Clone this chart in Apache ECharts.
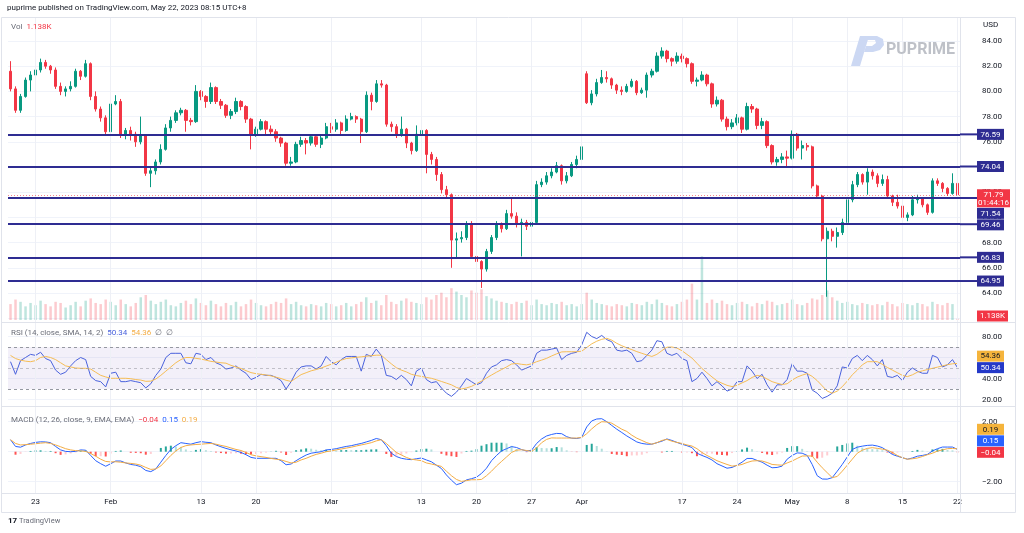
<!DOCTYPE html>
<html><head><meta charset="utf-8">
<script src="https://cdn.jsdelivr.net/npm/echarts/dist/echarts.min.js"></script>
<style>html,body{margin:0;padding:0;background:#fff}#c{width:1024px;height:533px}</style>
</head><body><div id="c"></div>
<script>
// ---- data (4H WTI chart, resampled to ~2 bars per trading day) ----
const tickLabels = ['23','Feb','13','20','Mar','13','20','27','Apr','17','24','May','8','15','22'];
const tickIndex  = [5,20,38,49,64,82,93,104,114,134,145,156,167,178,189];
// [open, close, low, high]
const candles = [
[81.6,80.2,80.0,82.4],[80.2,78.5,78.3,80.4],[78.5,79.6,78.3,79.8],[79.6,80.9,79.5,81.1],[80.9,81.3,80.0,81.6],[81.3,81.7,81.1,81.9],[81.7,82.3,81.5,82.6],[82.3,82.0,81.8,82.5],[82.0,81.7,81.4,82.1],[81.7,80.4,80.2,81.9],
[80.4,80.0,79.7,80.7],[80.0,80.2,79.6,80.4],[80.2,80.4,80.0,80.8],[80.4,81.6,80.3,81.8],[81.6,81.2,80.9,81.7],[81.2,82.2,81.1,82.5],[82.2,79.6,79.3,82.3],[79.6,78.6,78.4,80.0],[78.6,77.9,77.6,78.8],[77.9,76.8,76.6,78.1],
[76.8,79.0,76.6,79.2],[79.0,79.2,78.9,79.7],[79.2,76.5,76.3,79.4],[76.5,76.9,76.2,77.1],[76.9,76.6,76.1,77.2],[76.6,76.0,75.6,76.8],[76.0,76.5,75.8,78.0],[76.5,73.5,73.3,76.6],[73.5,73.7,72.4,74.0],[73.7,74.4,73.4,74.6],
[74.4,75.4,74.2,75.8],[75.4,77.1,75.3,77.4],[77.1,77.7,76.8,78.0],[77.7,78.3,77.5,78.5],[78.3,78.5,78.1,78.7],[78.5,77.7,76.8,78.6],[77.7,77.6,77.3,77.9],[77.6,80.0,77.5,80.5],[80.0,79.6,79.3,80.1],[79.6,79.2,78.7,79.7],
[79.2,80.3,79.0,80.7],[80.3,79.2,79.0,80.4],[79.2,78.9,78.6,79.4],[78.9,78.1,77.9,79.0],[78.1,78.4,77.8,78.6],[78.4,79.2,78.2,79.5],[79.2,78.8,78.5,79.3],[78.8,77.8,77.5,78.9],[77.8,76.6,75.4,77.9],[76.6,77.0,76.4,77.2],
[77.0,77.6,76.9,77.8],[77.6,77.0,76.5,77.7],[77.0,76.8,76.5,77.3],[76.8,76.3,76.0,77.0],[76.3,75.9,75.6,76.4],[75.9,74.3,74.1,76.0],[74.3,74.4,74.1,74.8],[74.4,75.8,74.3,76.0],[75.8,76.1,75.6,76.4],[76.1,75.9,75.0,76.3],
[75.9,76.4,75.7,76.6],[76.4,75.8,75.6,76.5],[75.8,76.3,75.5,76.5],[76.3,77.2,76.2,77.5],[77.2,77.0,76.7,77.5],[77.0,77.5,76.8,77.8],[77.5,76.9,76.5,77.6],[76.9,77.8,76.8,78.1],[77.8,78.0,77.7,78.3],[78.0,77.8,77.5,78.1],
[77.8,76.8,75.9,77.9],[76.8,79.7,76.7,80.0],[79.7,79.2,78.5,79.9],[79.2,80.6,79.1,80.9],[80.6,80.5,80.3,80.9],[80.5,77.4,77.2,80.6],[77.4,77.2,76.8,77.6],[77.2,76.6,76.3,77.4],[76.6,77.0,76.4,78.0],[77.0,75.9,75.5,77.1],
[75.9,75.3,75.0,76.0],[75.3,76.6,75.2,77.3],[76.6,76.9,76.4,77.2],[76.9,75.0,73.5,77.0],[75.0,74.6,74.2,75.2],[74.6,73.4,72.9,74.8],[73.4,72.2,71.9,73.6],[72.2,71.8,71.6,72.5],[71.8,68.2,66.0,71.9],[68.2,68.3,66.7,68.8],
[68.3,68.4,68.0,68.9],[68.4,69.4,68.2,69.7],[69.4,66.9,66.7,69.7],[66.9,66.5,66.2,67.2],[66.5,65.9,64.4,66.6],[65.9,67.3,65.7,67.5],[67.3,68.4,67.1,68.6],[68.4,69.4,68.2,69.7],[69.4,69.1,68.8,69.6],[69.1,70.3,69.0,70.6],
[70.3,70.1,69.9,71.5],[70.1,69.5,69.2,70.4],[69.5,69.6,66.9,69.9],[69.6,69.3,69.0,69.8],[69.3,69.6,69.1,69.9],[69.6,72.6,69.5,72.9],[72.6,72.8,72.4,73.1],[72.8,73.3,72.6,73.6],[73.3,73.6,73.1,73.9],[73.6,74.1,73.5,74.4],
[74.1,72.9,72.6,74.2],[72.9,73.3,72.7,73.6],[73.3,74.2,73.2,74.4],[74.2,74.6,73.9,74.9],[74.6,75.6,74.5,75.8],[81.4,79.1,79.0,81.6],[79.1,79.8,78.9,80.1],[79.8,80.7,79.6,81.0],[80.7,81.1,80.6,81.7],[81.1,81.0,80.7,81.6],
[81.0,80.5,80.2,81.1],[80.5,80.1,79.8,80.6],[80.1,80.0,79.7,80.4],[80.0,80.4,79.9,80.6],[80.4,80.8,80.3,81.0],[80.8,79.9,79.7,80.9],[79.9,80.1,79.8,80.3],[80.1,81.3,79.5,81.5],[81.3,81.6,81.1,81.8],[81.6,82.8,81.5,83.1],
[82.8,83.2,82.6,83.5],[83.2,82.6,82.3,83.3],[82.6,82.4,82.0,82.7],[82.4,82.8,82.2,83.1],[82.8,82.6,82.3,83.0],[82.6,82.2,81.9,82.7],[82.2,80.8,80.6,82.3],[80.8,80.9,80.4,81.1],[80.9,81.3,80.8,81.6],[81.3,80.6,80.4,81.4],
[80.6,79.0,78.7,80.7],[79.0,79.3,78.8,79.6],[79.3,77.8,77.6,79.4],[77.8,77.2,76.9,78.0],[77.2,77.5,77.0,77.8],[77.5,77.9,77.3,78.2],[77.9,77.0,76.7,78.0],[77.0,78.8,76.9,79.1],[78.8,78.6,78.3,79.0],[78.6,77.3,77.0,78.7],
[77.3,77.6,77.0,77.9],[77.6,75.7,75.5,77.7],[75.7,74.4,74.2,75.8],[74.4,74.6,74.1,74.8],[74.6,74.8,74.3,75.1],[74.8,74.7,74.0,75.3],[74.7,76.6,74.6,76.9],[76.6,75.5,75.3,76.7],[75.5,75.7,74.6,76.1],[75.7,75.6,75.3,75.9],
[75.6,72.5,72.3,75.7],[72.5,71.7,71.5,72.6],[71.7,68.3,68.1,71.8],[68.3,68.9,63.7,69.2],[68.9,68.5,68.1,69.1],[68.5,68.8,67.6,69.2],[68.8,69.6,68.6,69.9],[69.6,71.4,69.5,71.6],[71.4,72.6,71.2,72.9],[72.6,73.4,72.4,73.6],
[73.4,72.8,72.6,73.5],[72.8,73.6,71.8,73.9],[73.6,73.3,73.0,73.8],[73.3,72.7,72.4,73.5],[72.7,73.0,72.5,73.4],[73.0,71.7,71.5,73.3],[71.7,71.2,70.9,71.8],[71.2,70.9,70.7,71.8],[70.9,70.0,69.8,71.0],[70.0,70.2,69.7,70.4],
[70.2,71.4,70.1,71.7],[71.4,71.5,71.1,71.8],[71.5,71.0,70.8,71.6],[71.0,70.4,70.2,71.1],[70.4,72.9,70.3,73.1],[72.9,72.7,72.5,73.1],[72.7,72.3,72.0,72.8],[72.3,71.9,71.7,72.4],[71.9,72.7,71.8,73.5],[72.7,71.79,71.3,72.8]
];
const volumes = [
14,18,16,12,15,13,17,14,12,16, 15,11,13,16,12,17,19,15,14,18, 16,13,18,14,12,15,20,22,17,14, 16,18,13,12,15,17,14,19,15,13,
17,14,12,15,13,16,12,14,18,15, 13,12,14,16,15,19,14,16,13,12, 14,13,12,15,14,12,13,15,12,14, 16,20,15,17,13,22,16,14,17,19,
16,15,14,20,18,22,24,20,28,25, 22,20,26,24,27,21,19,17,16,15, 14,16,15,17,13,18,14,13,15,14, 16,13,14,12,14,24,18,15,14,13,
12,14,13,12,15,14,13,16,14,18, 15,13,12,14,16,18,32,18,56,15, 18,15,17,14,13,15,16,14,12,15, 14,17,16,13,14,15,18,14,13,15,
19,18,22,26,20,17,15,16,14,13, 15,14,13,14,13,16,14,12,15,14, 13,15,14,12,16,14,13,15,14,1.138
];
const rsi = [
56,44,57,60,63,62,65,59,57,48, 44,46,52,57,60,58,42,38,37,32, 45,46,37,37,38,37,36,31,35,43, 49,60,64,64,64,55,54,64,63,58,
60,55,53,49,50,52,48,45,39,41, 44,43,43,41,38,30,37,46,51,52, 52,49,52,61,56,53,58,61,61,61, 47,63,61,68,62,43,42,39,43,39,
33,47,50,39,36,37,31,26,23,27, 33,40,37,34,36,45,51,53,57,58, 57,53,48,50,52,64,67,67,68,69, 58,62,64,65,72,84,80,78,81,77,
75,67,66,67,64,56,57,62,67,76, 75,64,62,64,59,57,37,40,46,40, 33,37,33,28,30,37,37,52,47,40, 44,34,27,34,34,39,54,47,47,45,
29,26,21,23,26,33,51,50,59,62, 57,62,58,52,58,42,41,43,38,46, 50,47,45,45,62,60,51,53,58,50.34
];
const rsiMa = [
62,59,57.5,56.5,56,57,60,61,60,58, 55,52,51,50,49.7,49.7,49,46,43,41.5, 40.2,40.2,40.2,40.2,39.8,39,38.5,37.3,37.5,39.5,
43,47,51,55,58,60,60,59.2,58.5,57.5, 56.3,55.7,55,54.6,52.5,51,49.5,47.5,45.6,44.6, 44,43.4,42.5,41.2,40,38.3,37.2,40.5,43.7,45.5,
47.3,48.5,50,51.8,53.6,55.5,57.5,59,59.6,60.2, 60.6,61.2,61.7,62.2,62.2,58,54,50.3,48,46.3, 44,42.8,42,41,40.2,38.8,37.2,35.6,34,31.5,
30,31,32.5,35,37.5,40.5,43.3,46,48.5,51, 53.8,54.3,53.5,53,54,56,57.5,59.2,61.5,63.5, 65.3,65.5,65.5,65.5,66,69.5,73,75.5,77.3,78.3,
76.5,73.5,71.2,69.2,67.5,65.6,64,62.4,61,63, 66.5,69.8,70,69,66.5,63,59.5,54.5,49.5,45.5, 41.5,37.8,35.5,33.5,32.3,33.5,35.8,38,41,43,
42,39.5,37,35.5,34.3,35,38.5,41.3,43.2,44.7, 42,38,33,28,26,28,32.2,37.5,43.5,48, 53,56,56,56,53.5,50.5,48,45.5,43,41.8,
43.5,46,47.3,48.5,49.7,50.8,52,53.2,54,54.36
];
const macd = [
0.8,0.35,0.3,0.45,0.55,0.62,0.66,0.65,0.6,0.35, 0.12,0.02,0,0.02,0.12,0.1,-0.25,-0.6,-0.8,-0.97, -0.8,-0.62,-0.62,-0.75,-0.85,-0.9,-1.0,-1.25,-1.33,-1.15,
-0.7,-0.25,0.15,0.4,0.6,0.55,0.5,0.6,0.67,0.63, 0.6,0.45,0.33,0.22,0.13,0.05,-0.05,-0.2,-0.38,-0.44, -0.44,-0.44,-0.44,-0.44,-0.6,-0.87,-0.82,-0.6,-0.4,-0.22,
-0.1,-0.05,0,0.12,0.15,0.2,0.28,0.35,0.4,0.48, 0.55,0.65,0.75,0.88,0.8,0.4,-0.1,-0.32,-0.44,-0.5, -0.53,-0.47,-0.42,-0.55,-0.67,-0.9,-1.12,-1.55,-1.9,-2.2,
-2.1,-1.88,-1.8,-1.7,-1.45,-1.1,-0.6,-0.25,0.05,0.2, 0.34,0.28,0.14,0.05,0.1,0.55,0.85,1.05,1.15,1.22, 1.2,1.0,0.9,0.88,0.95,1.65,2.05,2.18,2.2,2.0,
1.75,1.5,1.28,1.05,0.85,0.65,0.55,0.5,0.5,0.6, 0.7,0.85,0.75,0.62,0.5,0.4,0.28,-0.1,-0.25,-0.38, -0.55,-0.8,-0.95,-1.1,-1.05,-0.9,-0.7,-0.45,-0.45,-0.58,
-0.7,-0.9,-1.07,-1.05,-0.96,-0.5,-0.25,-0.08,-0.1,-0.25, -0.85,-1.6,-1.82,-1.83,-1.73,-1.3,-0.85,-0.35,0.15,0.3, 0.37,0.42,0.44,0.38,0.27,0.05,-0.18,-0.3,-0.4,-0.5,
-0.42,-0.3,-0.25,-0.18,0.05,0.2,0.31,0.31,0.31,0.15
];
const signal = [
0.8,0.55,0.45,0.47,0.5,0.53,0.57,0.6,0.55,0.45, 0.33,0.2,0.12,0.07,0.05,0.02,-0.12,-0.3,-0.5,-0.65, -0.68,-0.67,-0.7,-0.75,-0.78,-0.82,-0.9,-1.05,-1.18,-1.15,
-0.95,-0.6,-0.25,0.05,0.28,0.4,0.45,0.48,0.5,0.53, 0.55,0.5,0.42,0.35,0.25,0.15,0.08,-0.05,-0.2,-0.28, -0.33,-0.38,-0.45,-0.5,-0.55,-0.65,-0.75,-0.7,-0.55,-0.44,
-0.3,-0.18,-0.1,0,0.05,0.12,0.18,0.24,0.3,0.38, 0.45,0.52,0.6,0.72,0.8,0.55,0.25,-0.05,-0.22,-0.38, -0.5,-0.55,-0.6,-0.75,-0.82,-0.9,-0.98,-1.3,-1.6,-1.85,
-1.98,-1.93,-1.87,-1.87,-1.85,-1.6,-1.3,-0.95,-0.65,-0.35, -0.05,0.1,0.13,0.08,0.02,0.25,0.6,0.82,0.92,0.91, 0.91,0.91,0.91,0.91,0.95,1.2,1.52,1.8,2.0,1.98,
1.9,1.7,1.5,1.35,1.1,0.9,0.75,0.6,0.5,0.6, 0.75,0.82,0.7,0.62,0.55,0.45,0.38,0.2,-0.05,-0.25, -0.42,-0.6,-0.73,-0.85,-0.96,-0.92,-0.85,-0.72,-0.62,-0.6,
-0.62,-0.72,-0.85,-0.88,-0.9,-0.75,-0.62,-0.45,-0.29,-0.28, -0.29,-0.7,-1.07,-1.4,-1.73,-1.65,-1.3,-0.9,-0.5,-0.1, 0.1,0.22,0.27,0.22,0.17,0.1,-0.05,-0.25,-0.4,-0.5,
-0.47,-0.42,-0.32,-0.2,-0.1,0.04,0.12,0.2,0.22,0.19
];
const hist = [
0,-0.2,-0.15,-0.02,0.05,0.09,0.09,0.05,0.05,-0.1, -0.21,-0.18,-0.12,-0.05,0.07,0.08,-0.13,-0.3,-0.3,-0.32, -0.12,0.05,0.08,0,-0.07,-0.08,-0.1,-0.2,-0.15,0,
0.25,0.35,0.4,0.35,0.32,0.15,0.05,0.12,0.17,0.1, 0.05,-0.05,-0.09,-0.13,-0.12,-0.1,-0.13,-0.15,-0.18,-0.16, -0.11,-0.06,0.01,0.06,-0.05,-0.22,-0.07,0.1,0.15,0.22,
0.2,0.13,0.1,0.12,0.1,0.08,0.1,0.11,0.1,0.1, 0.1,0.13,0.15,0.16,0,-0.15,-0.35,-0.27,-0.22,-0.12, -0.03,0.08,0.18,0.2,0.15,0,-0.14,-0.25,-0.3,-0.35,
-0.12,0.05,0.07,0.17,0.4,0.5,0.6,0.6,0.6,0.55, 0.39,0.18,0.01,-0.03,0.08,0.3,0.25,0.23,0.23,0.31, 0.29,0.09,-0.01,-0.03,0,0.45,0.53,0.38,0.2,0.02,
-0.15,-0.2,-0.22,-0.3,-0.25,-0.25,-0.2,-0.1,0,0, -0.05,0.05,0.05,0,-0.05,-0.05,-0.1,-0.3,-0.2,-0.13, -0.13,-0.2,-0.22,-0.25,-0.09,0.02,0.15,0.27,0.17,0.02,
-0.08,-0.18,-0.22,-0.17,-0.06,0.25,0.37,0.37,0.19,0.03, -0.35,-0.45,-0.4,-0.25,0,0.35,0.45,0.55,0.6,0.4, 0.27,0.2,0.17,0.16,0.1,-0.05,-0.13,-0.05,0,0,
0.05,0.12,0.07,0.02,0.15,0.16,0.19,0.11,0.09,-0.04
];
const levels = [76.59, 74.04, 71.54, 69.46, 66.83, 64.95];
const lastPrice = 71.79, countdown = '01:44:16';
const lastVol = 1.138, lastRsi = 50.34, lastRsiMa = 54.36, lastMacd = 0.15, lastSignal = 0.19, lastHist = -0.04;

// ---- chart ----
const FONT = 'Roboto, "Noto Sans", sans-serif';
const UP = '#089981', DOWN = '#f23645', NAVY = '#2e2c92';
const cats = candles.map((_, i) => String(i));
const tickMap = {}; tickIndex.forEach((idx, k) => { tickMap[idx] = tickLabels[k]; });
const fmt2 = v => (v < 0 ? '\u2212' + Math.abs(v).toFixed(2) : v.toFixed(2));
const L = 8, R = 64;

function xa(grid, labels) {
  return {
    type: 'category', gridIndex: grid, data: cats, boundaryGap: true,
    axisLine: { show: false }, axisTick: { show: false }, splitLine: { show: false },
    offset: labels ? 11.3 : 0,
    axisLabel: labels ? {
      interval: (i) => tickMap[i] !== undefined,
      formatter: (v) => tickMap[+v] || '',
      fontSize: 8, color: '#131722', margin: 5, fontFamily: FONT
    } : { show: false }
  };
}
function ya(grid, min, max, interval, fmt, show) {
  return {
    type: 'value', gridIndex: grid, position: 'right', min, max, interval,
    show: show !== false,
    axisLine: { show: false }, axisTick: { show: false },
    axisLabel: { margin: 22, fontSize: 8, color: '#131722', fontFamily: FONT, formatter: fmt },
    splitLine: { show: show !== false, lineStyle: { color: '#f0f3fa', width: 1 } }
  };
}
const gridBase = { left: L, right: R, outerBoundsMode: 'none', containLabel: false };
const histData = hist.map((v, i) => {
  const p = i > 0 ? hist[i - 1] : 0;
  const c = v >= 0 ? (v >= p ? '#26a69a' : '#b2dfdb') : (v < p ? '#ff5252' : '#ffcdd2');
  return { value: v, itemStyle: { color: c } };
});
const volData = volumes.map((v, i) => ({
  value: v,
  itemStyle: { color: candles[i][1] >= candles[i][0] ? 'rgba(8,153,129,0.26)' : 'rgba(242,54,69,0.26)' }
}));

const option = {
  animation: false,
  backgroundColor: '#ffffff',
  grid: [
    Object.assign({ top: 41, height: 277.2 }, gridBase),
    Object.assign({ top: 245, height: 75 }, gridBase),
    Object.assign({ top: 336.5, height: 63 }, gridBase),
    Object.assign({ top: 421.7, height: 60 }, gridBase),
    Object.assign({ top: 17, height: 476 }, gridBase)
  ],
  xAxis: [xa(0, false), xa(1, false), xa(2, false), xa(3, true), xa(4, false)],
  yAxis: [
    ya(0, 62, 84, 2, v => (v === 62 ? '' : v.toFixed(2))),
    { type: 'value', gridIndex: 1, min: 0, max: 66, show: false, splitLine: { show: false } },
    ya(2, 20, 80, 20, v => v.toFixed(2)),
    ya(3, -2, 2, 2, fmt2),
    { type: 'value', gridIndex: 4, min: 0, max: 1, show: false, splitLine: { show: false } }
  ],
  series: [
    {
      type: 'line', xAxisIndex: 4, yAxisIndex: 4, data: [], z: 0, silent: true,
      markLine: {
        silent: true, symbol: ['none', 'none'], label: { show: false }, animation: false,
        lineStyle: { color: '#eef0f6', width: 1, type: 'solid' },
        data: tickIndex.map(i => ({ xAxis: i }))
      }
    },
    {
      type: 'bar', xAxisIndex: 1, yAxisIndex: 1, data: volData, barWidth: 2.5, silent: true
    },
    {
      type: 'candlestick', xAxisIndex: 0, yAxisIndex: 0, data: candles, barWidth: 2.8, silent: true,
      itemStyle: { color: UP, color0: DOWN, borderColor: UP, borderColor0: DOWN, borderWidth: 1 },
      markLine: {
        silent: true, symbol: ['none', 'none'], label: { show: false }, animation: false,
        data: levels.map(v => ({ yAxis: v, lineStyle: { color: NAVY, width: 2, type: 'solid' } }))
          .concat([{ yAxis: lastPrice, lineStyle: { color: 'rgba(242,54,69,0.6)', width: 1, type: [1, 2] } }])
      }
    },
    {
      type: 'line', xAxisIndex: 2, yAxisIndex: 2, data: rsi, symbol: 'none', clip: false, silent: true,
      lineStyle: { color: '#4a62dd', width: 1 },
      markArea: { silent: true, itemStyle: { color: 'rgba(126,87,194,0.09)' }, data: [[{ yAxis: 30 }, { yAxis: 70 }]] },
      markLine: {
        silent: true, symbol: ['none', 'none'], label: { show: false }, animation: false,
        lineStyle: { color: '#9598a1', width: 1, type: [3, 3] },
        data: [{ yAxis: 70 }, { yAxis: 50, lineStyle: { color: 'rgba(149,152,161,0.55)', width: 1, type: [3, 3] } }, { yAxis: 30 }]
      }
    },
    {
      type: 'line', xAxisIndex: 2, yAxisIndex: 2, data: rsiMa, symbol: 'none', clip: false, silent: true,
      lineStyle: { color: '#f6bd55', width: 1 }
    },
    {
      type: 'bar', xAxisIndex: 3, yAxisIndex: 3, data: histData, barWidth: 2, silent: true
    },
    {
      type: 'line', xAxisIndex: 3, yAxisIndex: 3, data: macd, symbol: 'none', clip: false, silent: true,
      lineStyle: { color: '#2962ff', width: 1 }
    },
    {
      type: 'line', xAxisIndex: 3, yAxisIndex: 3, data: signal, symbol: 'none', clip: false, silent: true,
      lineStyle: { color: '#f4ad45', width: 1 }
    }
  ]
};

const chart = echarts.init(document.getElementById('c'), null, { renderer: 'canvas' });
chart.setOption(option);

// ---- decorations & right-hand value tags (positions via the library's scales) ----
const g = [];
const SEP = '#e0e3eb';
function hline(y, x1, x2) { g.push({ type: 'line', silent: true, z: 50, shape: { x1, y1: y, x2, y2: y }, style: { stroke: SEP, lineWidth: 1 } }); }
function txt(x, y, text, font, fill, align, z) {
  g.push({ type: 'text', silent: true, z: z || 60, x, y, style: { text, font, fill, align: align || 'left', verticalAlign: 'middle', textAlign: align || 'left', textVerticalAlign: 'middle' } });
}
function rich(x, y, parts) {
  let s = '', r = {};
  parts.forEach((p, k) => { s += '{p' + k + '|' + p[0] + '}'; r['p' + k] = { fill: p[1], color: p[1], fontSize: 8, fontFamily: FONT }; });
  g.push({ type: 'text', silent: true, z: 60, x, y, style: { text: s, rich: r, font: '8px ' + FONT, align: 'left', verticalAlign: 'middle', textVerticalAlign: 'middle' } });
}
// frame & separators
g.push({ type: 'rect', silent: true, z: 50, shape: { x: 1.5, y: 17.5, width: 1014, height: 495 }, style: { fill: 'none', stroke: SEP, lineWidth: 1 } });
hline(322.5, 1.5, 1015.5); hline(406.5, 1.5, 1015.5); hline(493.5, 1.5, 1015.5);
g.push({ type: 'line', silent: true, z: 50, shape: { x1: 960.5, y1: 17.5, x2: 960.5, y2: 512.5 }, style: { stroke: SEP, lineWidth: 1 } });

// texts
txt(7, 8, 'puprime published on TradingView.com, May 22, 2023 08:15 UTC+8', '8px ' + FONT, '#131722');
rich(11, 27, [['Vol  ', '#6a6d78'], [lastVol.toFixed(3) + 'K', '#f23645']]);
txt(983, 25, 'USD', '8px ' + FONT, '#131722');
rich(11, 333, [['RSI (14, close, SMA, 14, 2)  ', '#6a6d78'], [lastRsi.toFixed(2) + '  ', '#4a62dd'], [lastRsiMa.toFixed(2) + '  ', '#f4ad45'], ['\u2205  \u2205', '#6a6d78']]);
rich(11, 420, [['MACD (12, 26, close, 9, EMA, EMA)  ', '#6a6d78'], [fmt2(lastHist) + '  ', '#f23645'], [lastMacd.toFixed(2) + '  ', '#2962ff'], [lastSignal.toFixed(2), '#f4ad45']]);
// TradingView mark
txt(8, 521, '17', 'bold 8px ' + FONT, '#131722');
txt(19, 521, 'TradingView', '7.5px ' + FONT, '#6a6d78');
// PUPRIME watermark
g.push({ type: 'polygon', silent: true, z: 5, shape: { points: [[851, 66], [860, 66], [869, 36], [860, 36]] }, style: { fill: '#ccd8f3' } });
g.push({ type: 'polygon', silent: true, z: 5, shape: { points: [[866, 36], [877, 36], [883, 39], [884, 45], [880, 50], [873, 52], [864, 52], [866, 46], [872, 46], [876, 43], [875, 40], [865, 40]] }, style: { fill: '#ccd8f3' } });
txt(886, 50, 'PUPRIME', 'bold 16px ' + FONT, '#bec1c8');

function py(axis, v) { return chart.convertToPixel({ yAxisIndex: axis }, v); }
function tag(top, h, w, bg, fg, lines) {
  g.push({ type: 'rect', silent: true, z: 100, shape: { x: 977, y: top, width: w, height: h }, style: { fill: bg } });
  lines.forEach((t, k) => txt(977 + w / 2, top + 5.8 + k * 8, t, '8px ' + FONT, fg, 'center', 110));
}
// price tags (stack downward)
const priceTags = [{ v: lastPrice, h: 18, w: 33, bg: DOWN, fg: '#fff', lines: [lastPrice.toFixed(2), countdown] }]
  .concat(levels.map(v => ({ v, h: 11, w: 27, bg: NAVY, fg: '#fff', lines: [v.toFixed(2)] })));
priceTags.forEach(t => { t.top = py(0, t.v) - 5.5; });
priceTags.sort((a, b) => a.top - b.top);
for (let k = 1; k < priceTags.length; k++) {
  const p = priceTags[k - 1];
  if (priceTags[k].top < p.top + p.h + 0.5) priceTags[k].top = p.top + p.h + 0.5;
}
levels.forEach(v => {
  const y = py(0, v);
  g.push({ type: 'line', silent: true, z: 90, shape: { x1: 960, y1: y, x2: 978, y2: y }, style: { stroke: NAVY, lineWidth: 2 } });
});
priceTags.forEach(t => tag(t.top, t.h, t.w, t.bg, t.fg, t.lines));
// volume tag
{
  let top = py(1, lastVol) - 5.5; if (top + 11 > 321.5) top = 321.5 - 11;
  tag(top, 11, 31, DOWN, '#fff', [lastVol.toFixed(3) + 'K']);
}
// indicator tags (stack upward)
function stackUp(list, axis) {
  list.forEach(t => { t.top = py(axis, t.v) - 5.5; });
  list.sort((a, b) => b.top - a.top);
  for (let k = 1; k < list.length; k++) {
    const p = list[k - 1];
    if (list[k].top + 11 > p.top - 0.5) list[k].top = p.top - 0.5 - 11;
  }
  list.forEach(t => tag(t.top, 11, 27, t.bg, t.fg, [fmt2(t.v)]));
}
stackUp([{ v: lastRsi, bg: '#2439c8', fg: '#fff' }, { v: lastRsiMa, bg: '#f5b43c', fg: '#131722' }], 2);
stackUp([{ v: lastHist, bg: DOWN, fg: '#fff' }, { v: lastMacd, bg: '#2962ff', fg: '#fff' }, { v: lastSignal, bg: '#f5b43c', fg: '#131722' }], 3);

chart.setOption({ graphic: { elements: g } });
</script>
</body></html>
